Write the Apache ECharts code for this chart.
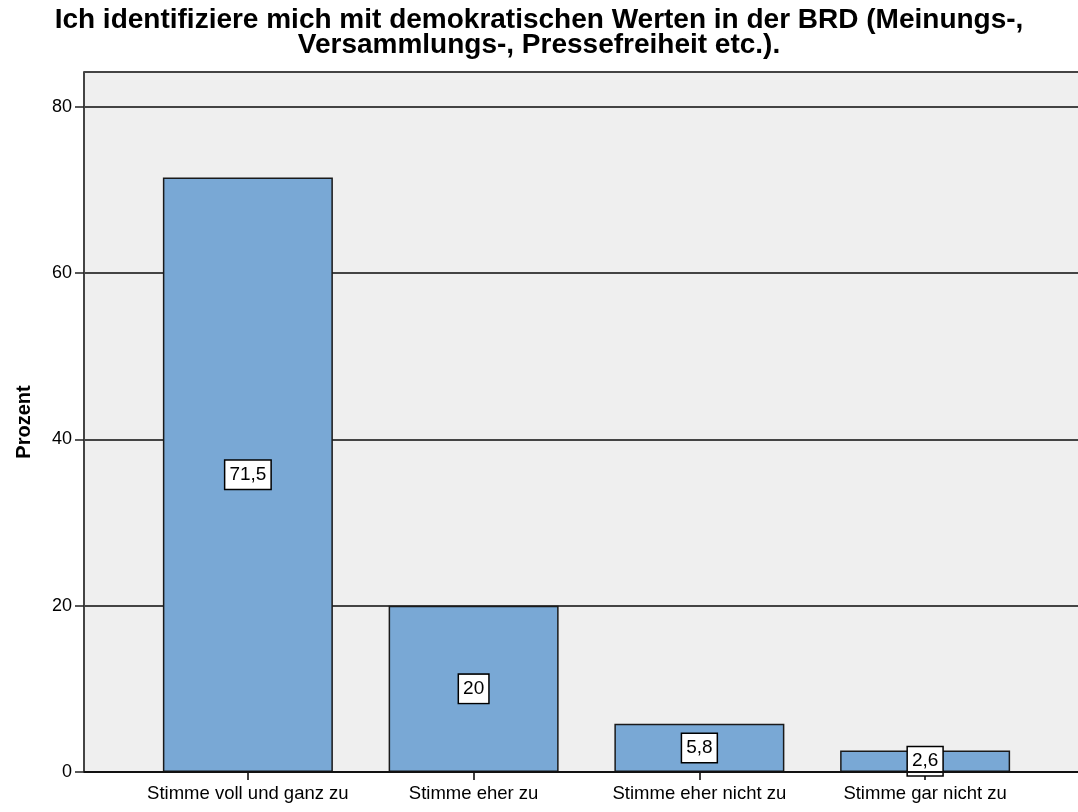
<!DOCTYPE html>
<html>
<head>
<meta charset="utf-8">
<script src="https://cdn.jsdelivr.net/npm/echarts@6/dist/echarts.min.js"></script>
<style>
    html, body { margin: 0; padding: 0; background: #fff; }
    #chart { width: 1078px; height: 812px; }
</style>
</head>
<body>
<div id="chart"></div>
<script>
    // data
    var categories = ['Stimme voll und ganz zu', 'Stimme eher zu', 'Stimme eher nicht zu', 'Stimme gar nicht zu'];
    var percents = [71.5, 20, 5.8, 2.6];
    var valueLabels = ['71,5', '20', '5,8', '2,6'];
    var yTicks = [0, 20, 40, 60, 80];

    var yMax = 84.2;
    var font = 'Liberation Sans, Arial, sans-serif';

    var chart = echarts.init(document.getElementById('chart'));
    var option = {
        animation: false,
        title: {
            text: 'Ich identifiziere mich mit demokratischen Werten in der BRD (Meinungs-,\nVersammlungs-, Pressefreiheit etc.).',
            left: 'center',
            top: 3,
            textStyle: {
                fontFamily: font,
                fontSize: 28,
                fontWeight: 'bold',
                color: '#000',
                lineHeight: 25
            }
        },
        grid: [
            // frame background and gridlines; no border so the right edge stays open
            {left: 84, right: 0, top: 72, bottom: 40, outerBoundsMode: 'none', show: true, backgroundColor: '#efefef', borderWidth: 0},
            // bars
            {left: 135, right: 40, top: 72, bottom: 40, outerBoundsMode: 'none'}
        ],
        xAxis: [
            {gridIndex: 0, type: 'value', min: 0, max: 1, show: false},
            {
                gridIndex: 1,
                type: 'category',
                data: categories,
                axisLine: {show: false},
                axisTick: {show: true, interval: 0, alignWithLabel: true, length: 8, lineStyle: {color: '#000', width: 1.5}},
                axisLabel: {interval: 0, color: '#000', fontFamily: font, fontSize: 18.5, margin: 12}
            }
        ],
        yAxis: [
            {
                gridIndex: 0,
                type: 'value',
                min: 0,
                max: yMax,
                interval: 20,
                name: 'Prozent',
                nameLocation: 'middle',
                nameGap: 50,
                nameTextStyle: {fontFamily: font, fontSize: 20, fontWeight: 'bold', color: '#000'},
                axisLine: {show: true, lineStyle: {color: '#444', width: 2}},
                axisTick: {show: true, length: 9, customValues: yTicks, lineStyle: {color: '#222', width: 1.5}},
                axisLabel: {color: '#000', fontFamily: font, fontSize: 18, margin: 12, customValues: yTicks},
                splitLine: {show: true, lineStyle: {color: '#444', width: 2}}
            },
            {gridIndex: 1, type: 'value', min: 0, max: yMax, show: false}
        ],
        series: [
            {
                // bottom axis line and top frame line across the frame
                type: 'line',
                xAxisIndex: 0,
                yAxisIndex: 0,
                data: [],
                markLine: {
                    silent: true,
                    symbol: 'none',
                    label: {show: false},
                    lineStyle: {color: '#111', width: 2, type: 'solid'},
                    data: [{yAxis: 0}, {yAxis: yMax, lineStyle: {color: '#444'}}]
                }
            },
            {
                type: 'bar',
                xAxisIndex: 1,
                yAxisIndex: 1,
                data: percents,
                barWidth: 170,
                itemStyle: {color: '#79a8d5', borderColor: '#1a1a1a', borderWidth: 1.5},
                label: {
                    show: true,
                    position: 'inside',
                    formatter: function (p) { return valueLabels[p.dataIndex]; },
                    fontFamily: font,
                    fontSize: 19,
                    color: '#000',
                    backgroundColor: '#fff',
                    borderColor: '#000',
                    borderWidth: 1.5,
                    padding: [5, 4, 4, 4]
                }
            }
        ]
    };
    chart.setOption(option);
</script>
</body>
</html>
